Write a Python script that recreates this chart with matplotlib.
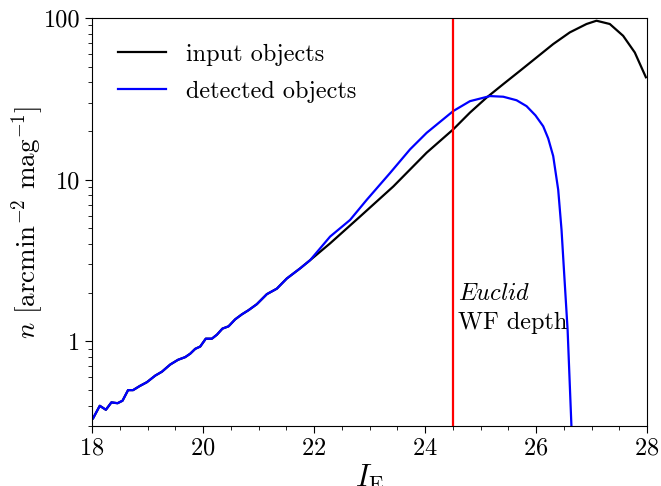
import numpy as np
import matplotlib
matplotlib.use("Agg")
import matplotlib.pyplot as plt
from matplotlib.ticker import FixedLocator, FixedFormatter, MultipleLocator, LogLocator, NullFormatter

plt.rcParams['font.family'] = ['serif']
plt.rcParams['font.serif'] = ['cmr10']
plt.rcParams['mathtext.fontset'] = 'cm'
plt.rcParams['axes.formatter.use_mathtext'] = True

# faint end shared by both curves (detected == input here)
low_mag = [18.02, 18.14, 18.25, 18.35, 18.46, 18.55, 18.65, 18.74, 18.86, 18.99,
           19.14, 19.26, 19.41, 19.55, 19.68, 19.77, 19.86, 19.95, 20.05, 20.16,
           20.25, 20.35, 20.46, 20.58, 20.70, 20.82, 20.97, 21.15, 21.33, 21.51,
           21.75, 21.93]
low_n = [0.335, 0.40, 0.378, 0.42, 0.415, 0.43, 0.50, 0.50, 0.53, 0.56,
         0.615, 0.65, 0.72, 0.77, 0.80, 0.84, 0.90, 0.93, 1.04, 1.04,
         1.10, 1.20, 1.24, 1.37, 1.47, 1.56, 1.70, 1.96, 2.12, 2.45,
         2.83, 3.18]

# detected objects (bright part)
det_mag_hi = [22.29, 22.65, 22.95, 23.37, 23.73, 24.03, 24.51, 24.81, 25.17, 25.41,
              25.65, 25.83, 25.99, 26.13, 26.22, 26.31, 26.40, 26.46, 26.50, 26.57,
              26.64]
det_n_hi = [4.45, 5.64, 7.51, 11.0, 15.4, 19.5, 26.6, 30.6, 32.9, 32.6,
            31.0, 28.5, 25.0, 21.4, 18.0, 14.0, 8.67, 4.9, 2.9, 1.17,
            0.29]

# input objects (bright part)
inp_mag_hi = [22.29, 22.83, 23.43, 24.03, 24.51, 24.81, 25.11, 25.41, 25.71, 26.01,
              26.31, 26.61, 26.91, 27.09, 27.33, 27.57, 27.78, 27.98]
inp_n_hi = [4.04, 5.92, 9.09, 14.7, 20.5, 26.0, 32.2, 39.0, 47.1, 57.0,
            69.0, 81.5, 91.8, 96.2, 91.8, 77.6, 61.2, 43.0]

det_mag = low_mag + det_mag_hi
det_n = low_n + det_n_hi
inp_mag = low_mag + inp_mag_hi
inp_n = low_n + inp_n_hi

depth = 24.5

fig = plt.figure(figsize=(6.61, 4.86), dpi=100)
ax = fig.add_axes([92/661, 1 - 426/486, (647 - 92)/661, (426 - 18)/486])

ax.plot(inp_mag, inp_n, color='black', lw=1.6, label='input objects')
ax.plot(det_mag, det_n, color='blue', lw=1.6, label='detected objects')
ax.axvline(depth, color='red', lw=1.6)

ax.set_yscale('log')
ax.set_xlim(18, 28)
ax.set_ylim(0.3, 100)

ax.xaxis.set_major_locator(MultipleLocator(2))
ax.xaxis.set_minor_locator(MultipleLocator(0.5))
ax.yaxis.set_major_locator(FixedLocator([1, 10, 100]))
ax.yaxis.set_major_formatter(FixedFormatter(['1', '10', '100']))
ax.yaxis.set_minor_locator(LogLocator(base=10, subs=np.arange(2, 10)))
ax.yaxis.set_minor_formatter(NullFormatter())
ax.tick_params(axis='both', which='major', labelsize=17.5, length=5)
ax.tick_params(axis='both', which='minor', length=3)

ax.set_xlabel(r'$I_{\rm E}$', fontsize=22, labelpad=2)
ax.set_ylabel(r'$n$ [arcmin$^{-2}$ mag$^{-1}$]', fontsize=19.5, labelpad=-2)

ax.text(24.6, 2.3, r'$\mathit{Euclid}$', fontsize=17.5, va='top', ha='left')
ax.text(24.6, 1.52, 'WF depth', fontsize=17.5, va='top', ha='left')

ax.legend(loc='upper left', frameon=False, fontsize=17.5, handlelength=2.0,
          borderaxespad=0.65, labelspacing=0.62)

fig.savefig('out.png', dpi=100)
